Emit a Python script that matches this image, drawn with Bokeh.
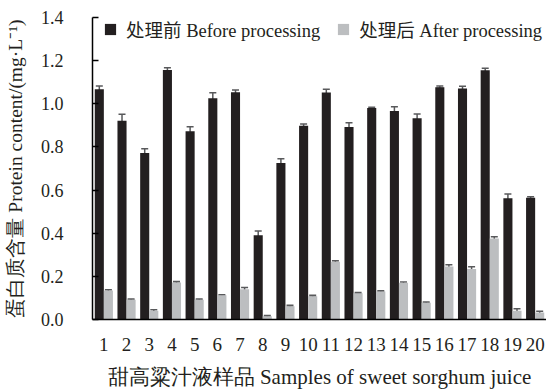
from bokeh.plotting import figure
from bokeh.models import ColumnDataSource, Whisker, TeeHead, Legend, LegendItem, Range1d, FactorRange
from bokeh.transform import dodge
from bokeh.embed import file_html
from bokeh.resources import INLINE

samples = [str(i) for i in range(1, 21)]
before = [1.067, 0.921, 0.772, 1.157, 0.873, 1.026, 1.054, 0.390, 0.725, 0.898,
          1.052, 0.892, 0.980, 0.966, 0.933, 1.077, 1.071, 1.155, 0.562, 0.564]
before_err = [0.015, 0.030, 0.020, 0.010, 0.020, 0.025, 0.010, 0.020, 0.020, 0.008,
              0.015, 0.020, 0.004, 0.020, 0.020, 0.005, 0.010, 0.010, 0.020, 0.005]
after = [0.134, 0.092, 0.040, 0.172, 0.092, 0.112, 0.140, 0.015, 0.062, 0.108,
         0.268, 0.122, 0.130, 0.170, 0.078, 0.246, 0.234, 0.376, 0.040, 0.032]
after_err = [0.004, 0.003, 0.005, 0.004, 0.003, 0.003, 0.008, 0.003, 0.004, 0.004,
             0.004, 0.003, 0.003, 0.004, 0.003, 0.008, 0.010, 0.008, 0.010, 0.006]
y_ticks = [0.0, 0.2, 0.4, 0.6, 0.8, 1.0, 1.2, 1.4]

FONT = "Liberation Serif, Noto Sans CJK SC"
AXFONT = "Liberation Serif"
BLACK = "#231f20"
GREY = "#bcbec0"
ERR = "#58595b"

src = ColumnDataSource(dict(
    x=samples, b=before, a=after,
    b_lo=[v - e for v, e in zip(before, before_err)],
    b_hi=[v + e for v, e in zip(before, before_err)],
    a_lo=[v - e for v, e in zip(after, after_err)],
    a_hi=[v + e for v, e in zip(after, after_err)],
))

p = figure(width=546, height=391, x_range=FactorRange(*samples, range_padding=0),
           y_range=Range1d(0, 1.4), output_backend="svg", toolbar_location=None,
           min_border_left=92, min_border_right=0, min_border_top=17, min_border_bottom=70)
p.outline_line_color = None
p.grid.visible = False
p.background_fill_color = "white"
p.border_fill_color = "white"

rb = p.vbar(x=dodge("x", -0.2, range=p.x_range), top="b", width=0.4, source=src,
            fill_color=BLACK, line_color=None)
ra = p.vbar(x=dodge("x", 0.2, range=p.x_range), top="a", width=0.4, source=src,
            fill_color=GREY, line_color=None)

for xo, lo, hi in [(-0.2, "b_lo", "b_hi"), (0.2, "a_lo", "a_hi")]:
    w = Whisker(base=dodge("x", xo, range=p.x_range), lower=lo, upper=hi, source=src,
                line_color=ERR, line_width=1.5,
                upper_head=TeeHead(size=7, line_color=ERR, line_width=1.5),
                lower_head=TeeHead(size=7, line_color=ERR, line_width=1.5))
    p.add_layout(w)

# y axis
ya = p.yaxis[0]
ya.ticker = y_ticks
ya.major_label_overrides = {t: f"{t:.1f}" for t in y_ticks}
ya.major_tick_in = 6
ya.major_tick_out = 0
ya.minor_tick_line_color = None
ya.axis_line_width = 1.5
ya.major_tick_line_width = 1.5
ya.major_label_standoff = 29
ya.major_label_text_font = FONT
ya.major_label_text_font_size = "18px"
ya.major_label_text_color = "#231f20"
ya.axis_label = "蛋白质含量 Protein content/(mg·L⁻¹)"
ya.axis_label_text_font = AXFONT
ya.axis_label_text_font_size = "19.5px"
ya.axis_label_text_font_style = "normal"
ya.axis_label_text_color = "#231f20"
ya.axis_label_standoff = 12

# x axis
xa = p.xaxis[0]
xa.major_tick_line_color = None
xa.major_tick_in = 0
xa.major_tick_out = 0
xa.axis_line_width = 1.5
xa.major_label_standoff = 18
xa.major_label_text_font = FONT
xa.major_label_text_font_size = "19px"
xa.major_label_text_color = "#231f20"
xa.axis_label = "甜高粱汁液样品 Samples of sweet sorghum juice"
xa.axis_label_text_font = AXFONT
xa.axis_label_text_font_size = "21px"
xa.axis_label_text_font_style = "normal"
xa.axis_label_text_color = "#231f20"
xa.axis_label_standoff = 11

legend = Legend(items=[LegendItem(label="处理前 Before processing", renderers=[rb]),
                       LegendItem(label="处理后 After processing", renderers=[ra])],
                orientation="horizontal", location=(11, 277),
                glyph_width=14, glyph_height=14, label_height=14,
                label_standoff=9, spacing=16, padding=0, margin=0,
                border_line_color=None, background_fill_alpha=0,
                label_text_font=FONT, label_text_font_size="18.5px",
                label_text_color="#231f20")
p.add_layout(legend)

open("out.html", "w").write(file_html(p, INLINE))
